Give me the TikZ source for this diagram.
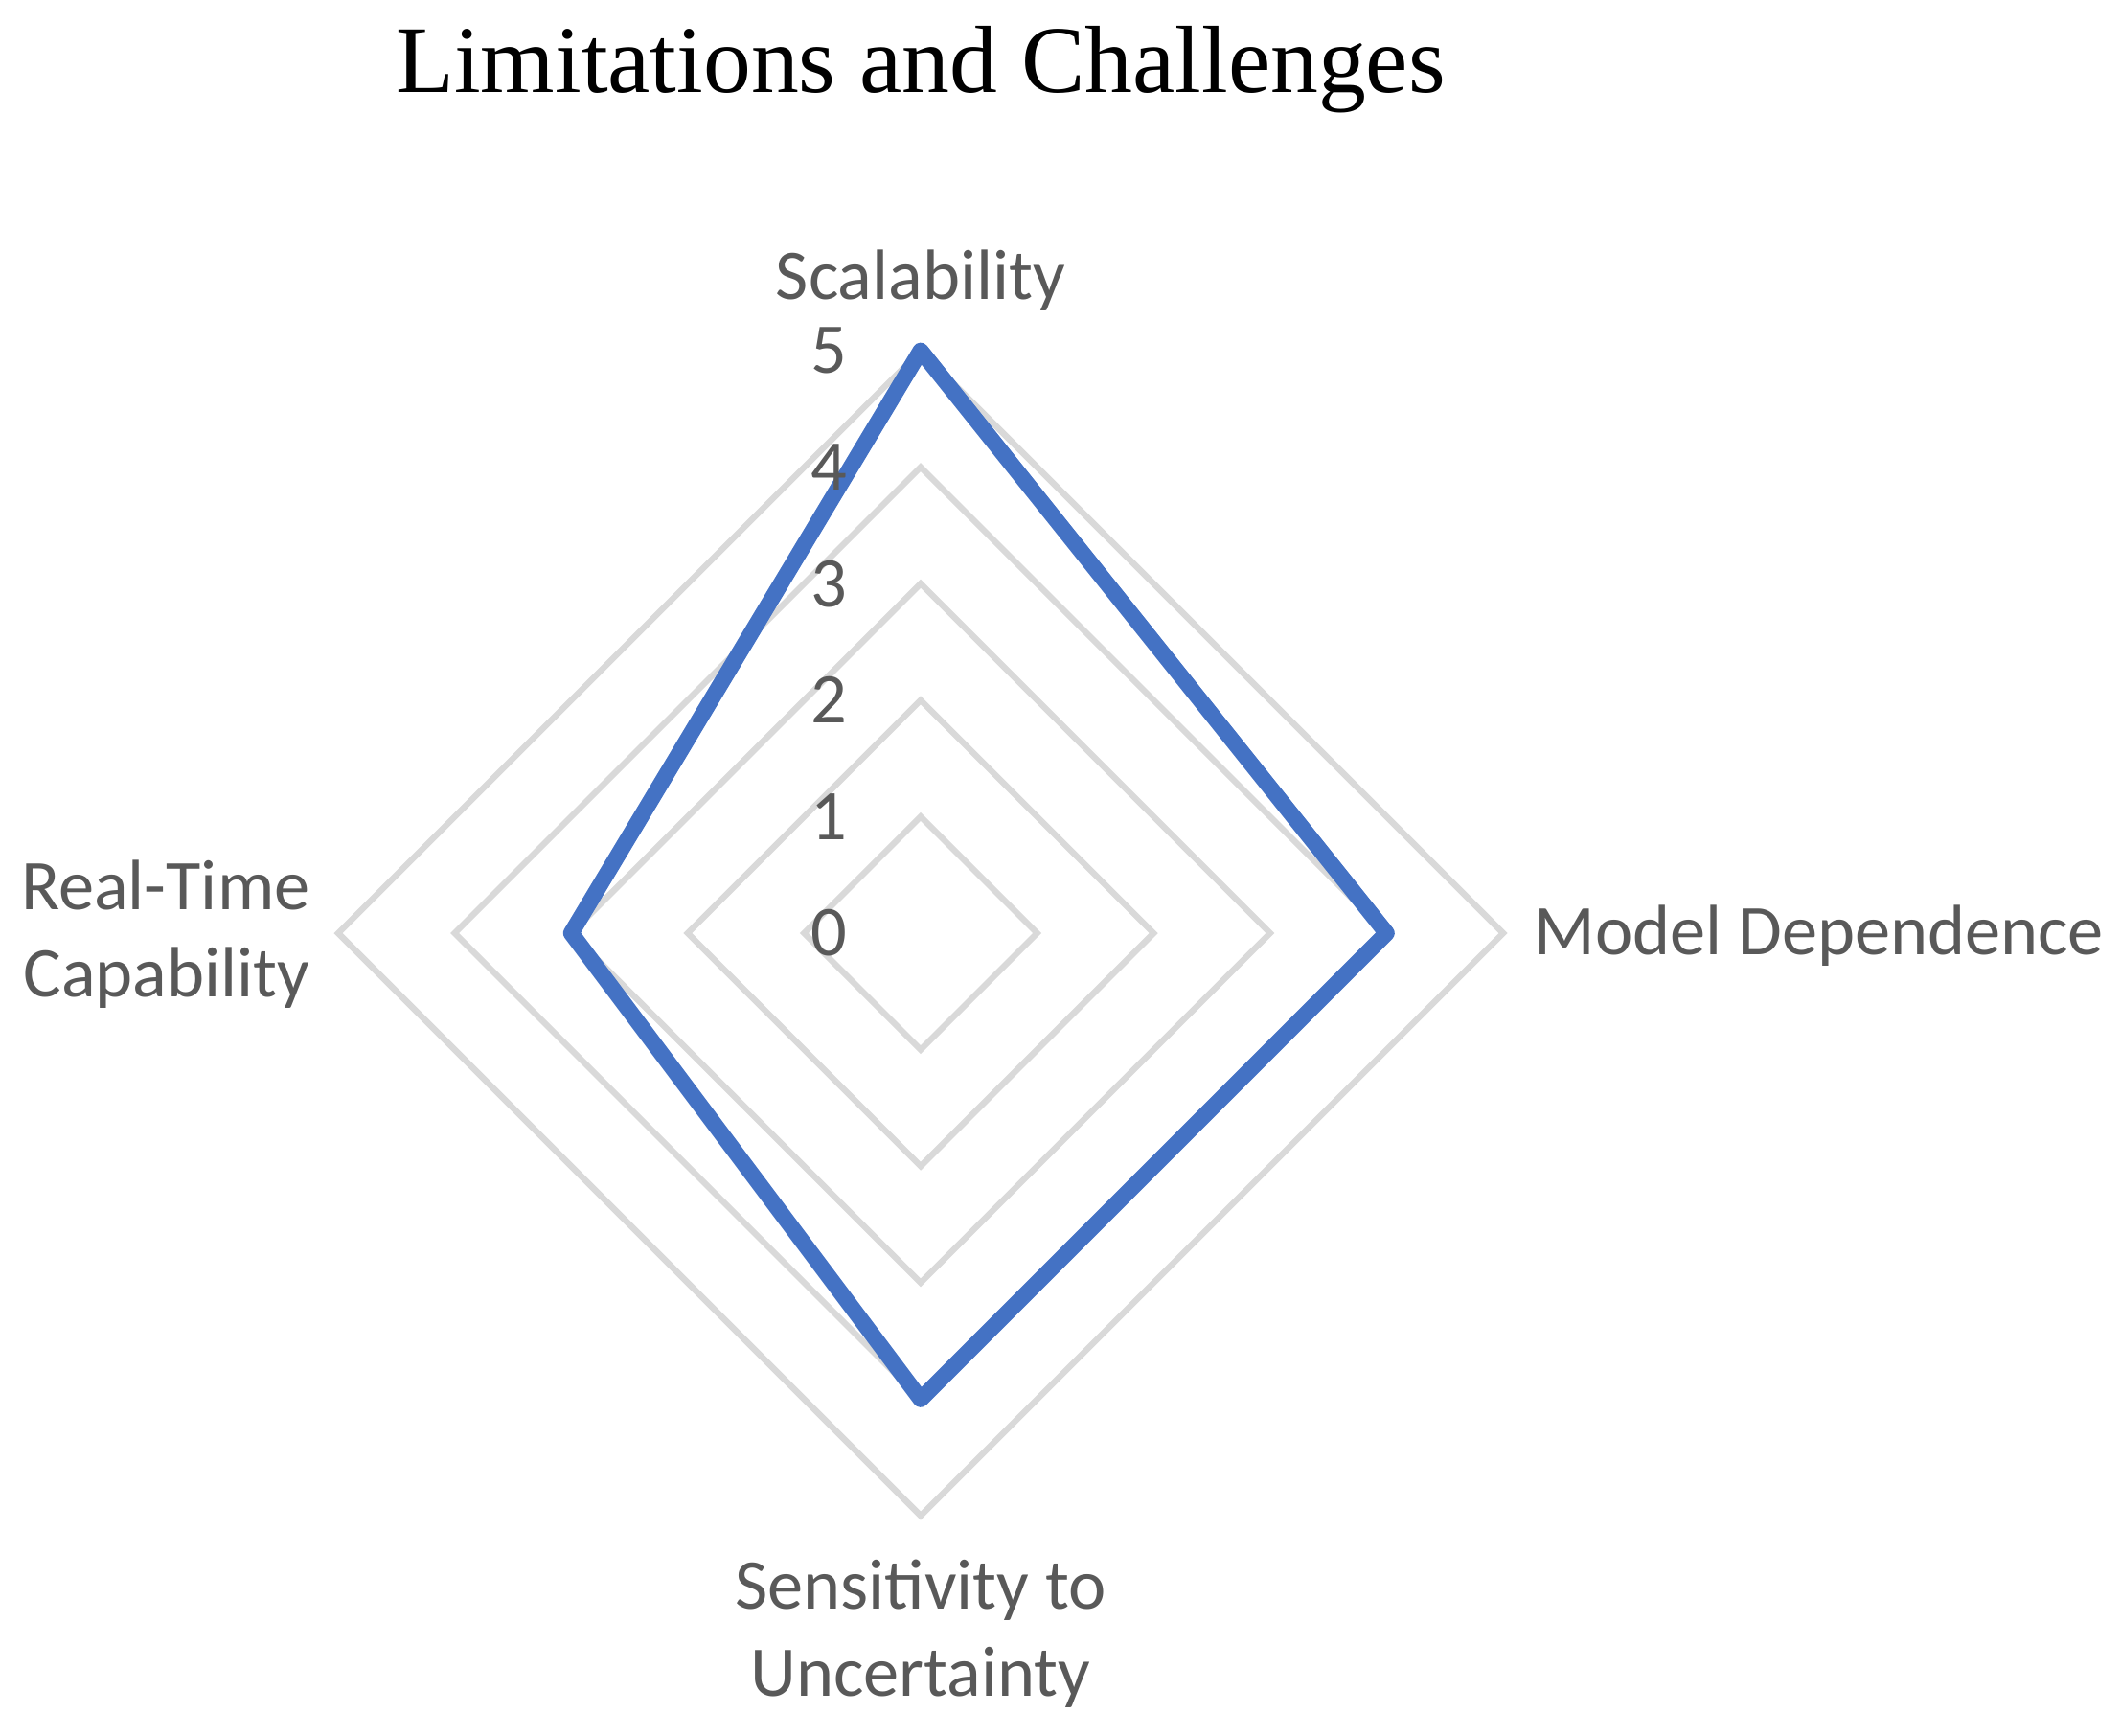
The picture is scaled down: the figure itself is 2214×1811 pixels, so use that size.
\documentclass[tikz,border=0pt]{standalone}
\usepackage{fontspec}
\setmainfont{Liberation Serif}
\newfontfamily\labelfont{Carlito}

\definecolor{ringgray}{RGB}{217,217,217}
\definecolor{seriesblue}{RGB}{68,114,196}
\definecolor{labelgray}{RGB}{89,89,89}

\tikzset{every picture/.style={line width=0.75pt}}
\tikzset{
  ring/.style={draw=ringgray, line width=1.6pt, line join=miter},
  series/.style={draw=seriesblue, line width=4.2pt, line join=round},
  axislabel/.style={font=\labelfont\fontsize{18.6}{22.75}\selectfont, text=labelgray, inner sep=0pt},
  ticklabel/.style={axislabel, anchor=east},
  charttitle/.style={font=\fontsize{24.9}{30}\selectfont, inner sep=0pt, anchor=base}
}

\begin{document}
\begin{tikzpicture}[x=0.25pt,y=0.25pt,yscale=-1,xscale=1]
\useasboundingbox (0,0) rectangle (2214,1811);

% Centre of the chart
\coordinate (c) at (961,974);

% Grid rings
\foreach \r in {1,...,5} {
  \draw[ring] (961,{974-\r*121.6}) -- ({961+\r*121.6},974) -- (961,{974+\r*121.6}) -- ({961-\r*121.6},974) -- cycle;
}

% Data points
\coordinate (scal) at (961,{974-5*121.6});
\coordinate (model) at ({961+4*121.6},974);
\coordinate (sens) at (961,{974+4*121.6});
\coordinate (real) at ({961-3*121.6},974);

% Series
\draw[series] (scal) -- (model) -- (sens) -- (real) -- cycle;

% Tick labels
\foreach \v in {0,...,5} {
  \node[ticklabel] (tick\v) at (886,{974-\v*121.6}) {\v};
}

% Title
\node[charttitle] (title) at (961,96) {Limitations and Challenges};

% Axis labels (base = last line)
\node[axislabel, anchor=base] (lscal) at (961,312) {Scalability};
\node[axislabel, anchor=base west] (lmodel) at (1600,996) {Model Dependence};
\node[axislabel, anchor=base east, align=right] (lreal) at (325,1040) {Real-Time\\Capability};
\node[axislabel, anchor=base, align=center] (lsens) at (961,1770) {Sensitivity to\\Uncertainty};

\end{tikzpicture}
\end{document}
